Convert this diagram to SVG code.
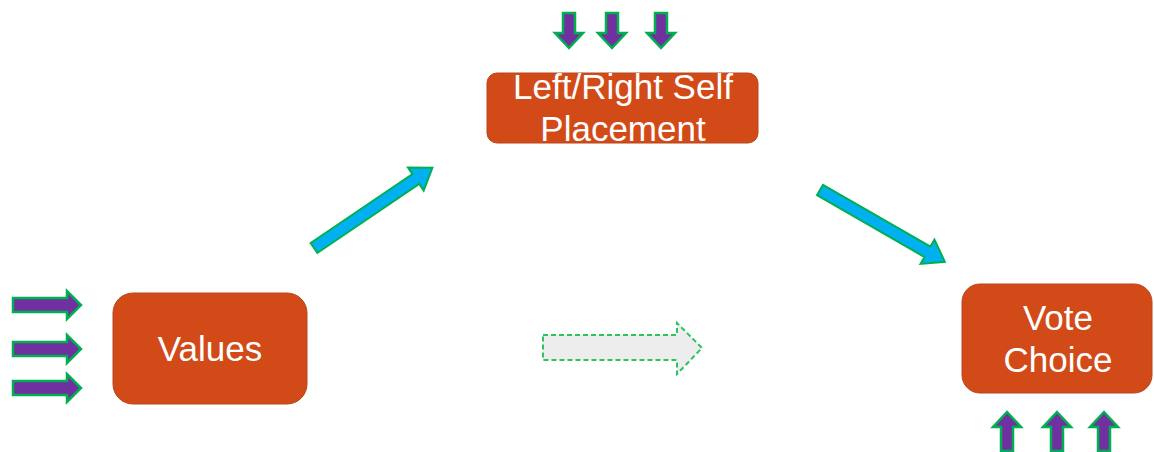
<svg xmlns="http://www.w3.org/2000/svg" width="1154" height="452" viewBox="0 0 1154 452">
<style>
.box{fill:#D24A18;stroke:#B8461E;stroke-width:1}
.lbl{font-family:"Liberation Sans",Arial,sans-serif;font-size:35px;fill:#FFFFFF;text-anchor:middle}
.pa{fill:#7030A0;stroke:#00B050;stroke-width:2.5;stroke-linejoin:miter}
.ba{fill:#00B0F0;stroke:#00B050;stroke-width:2}
.da{fill:#EDEDED;stroke:#2DC45E;stroke-width:2;stroke-dasharray:5,3}
</style>
<defs>
<polygon id="rarrow" points="0,-7 54,-7 54,-14 68,0 54,14 54,7 0,7"/>
<polygon id="darrow" points="-6,0 6,0 6,20 14,20 0,35 -14,20 -6,20"/>
<polygon id="uarrow" points="0,0 14,15 6,15 6,39 -6,39 -6,15 -14,15"/>
</defs>
<rect width="1154" height="452" fill="#FFFFFF"/>
<g id="node-placement">
<rect class="box" x="487" y="73" width="271" height="70" rx="10"/>
<text class="lbl" x="623" y="99">Left/Right Self</text>
<text class="lbl" x="623" y="141">Placement</text>
</g>
<g id="node-values">
<rect class="box" x="113" y="293" width="194" height="111" rx="20"/>
<text class="lbl" x="210" y="361">Values</text>
</g>
<g id="node-vote">
<rect class="box" x="962" y="284" width="190" height="109" rx="18"/>
<text class="lbl" x="1058" y="330">Vote</text>
<text class="lbl" x="1058" y="372">Choice</text>
</g>
<g id="connectors">
<polygon class="ba" transform="translate(314,248) rotate(-34.1)" points="0,-6 123,-6 123,-14 143,0 123,14 123,6 0,6"/>
<polygon class="ba" transform="translate(820,190) rotate(29.9)" points="0,-6 124,-6 124,-14 144,0 124,14 124,6 0,6"/>
<polygon class="da" points="543,335 677,335 677,323 702,348 677,374 677,360 543,360"/>
</g>
<g id="inputs-values">
<use href="#rarrow" class="pa" x="13" y="305"/>
<use href="#rarrow" class="pa" x="13" y="349"/>
<use href="#rarrow" class="pa" x="13" y="388"/>
</g>
<g id="inputs-placement">
<use href="#darrow" class="pa" x="569" y="13"/>
<use href="#darrow" class="pa" x="612" y="13"/>
<use href="#darrow" class="pa" x="661" y="13"/>
</g>
<g id="inputs-vote">
<use href="#uarrow" class="pa" x="1007" y="412"/>
<use href="#uarrow" class="pa" x="1057" y="412"/>
<use href="#uarrow" class="pa" x="1104" y="412"/>
</g>
</svg>
